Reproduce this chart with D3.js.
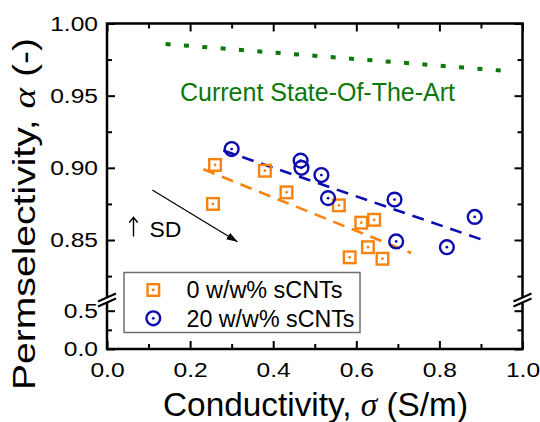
<!DOCTYPE html>
<html><head><meta charset="utf-8">
<script src="https://cdn.jsdelivr.net/npm/d3@7"></script>
<style>
body{margin:0;background:#fff;}
text{font-family:"Liberation Sans",Arial,sans-serif;fill:#000;}
</style></head><body>
<svg id="chart" width="540" height="422"></svg>
<script>
// ---- data ----
const series0Name = "0 w/w% sCNTs";
const series0X = [0.260,0.255,0.380,0.432,0.558,0.612,0.643,0.628,0.584,0.663];
const series0Y = [0.902,0.875,0.898,0.883,0.874,0.862,0.864,0.845,0.838,0.837];
const series20Name = "20 w/w% sCNTs";
const series20X = [0.300,0.466,0.468,0.516,0.532,0.692,0.885,0.696,0.818];
const series20Y = [0.913,0.905,0.900,0.895,0.879,0.878,0.866,0.849,0.845];
const fit0X = [0.232,0.732];  const fit0Y = [0.899,0.841];
const fit20X = [0.280,0.915]; const fit20Y = [0.912,0.849];
const sotaX = [0.141,0.975];  const sotaY = [0.9858,0.9668];
const sotaLabel = "Current State-Of-The-Art";
const sdArrowX = [0.109,0.314]; const sdArrowY = [0.8846,0.8488];
const sdLabel = "SD";
const xTicks = [0,0.2,0.4,0.6,0.8,1.0];
const xMinor = [0.1,0.3,0.5,0.7,0.9];
const yUpperTicks = [0.85,0.90,0.95,1.00];
const yUpperMinor = [0.825,0.875,0.925,0.975];
const yLowerTicks = [0.0,0.5];
const yLowerMinor = [0.25];

const ORANGE = "#f7820f", BLUE = "#0c0cb0", GREEN = "#0a780a";

const svg = d3.select("#chart");
const L = 107, R = 522.5, T = 23.5, B = 349;
const x  = d3.scaleLinear().domain([0,1]).range([L,R]);
const yU = d3.scaleLinear().domain([0.85,1.0]).range([240,T]);
const yL = d3.scaleLinear().domain([0,0.5]).range([B,310.7]);

function styleAxis(g, scaleTxt){
  g.select(".domain").remove();
  g.selectAll(".tick line").attr("stroke","#000").attr("stroke-width",2);
  g.selectAll(".tick text").attr("font-size",20.5).attr("fill","#000")
    .attr("font-family","Liberation Sans, Arial, sans-serif")
    .attr("transform", scaleTxt ? "scale(1.2,1)" : null);
}

// left axes
const gLU = svg.append("g").attr("transform",`translate(${L},0)`)
  .call(d3.axisLeft(yU).tickValues(yUpperTicks).tickSize(-8).tickPadding(7.5).tickFormat(d3.format(".2f")));
styleAxis(gLU,true);
const gLUm = svg.append("g").attr("transform",`translate(${L},0)`)
  .call(d3.axisLeft(yU).tickValues(yUpperMinor).tickSize(-5).tickFormat(""));
styleAxis(gLUm,false);
const gLL = svg.append("g").attr("transform",`translate(${L},0)`)
  .call(d3.axisLeft(yL).tickValues(yLowerTicks).tickSize(-8).tickPadding(7.5).tickFormat(d3.format(".1f")));
styleAxis(gLL,true);
const gLLm = svg.append("g").attr("transform",`translate(${L},0)`)
  .call(d3.axisLeft(yL).tickValues(yLowerMinor).tickSize(-5).tickFormat(""));
styleAxis(gLLm,false);
// right axes
[[yU,yUpperTicks,-8],[yU,yUpperMinor,-5],[yL,yLowerTicks,-8],[yL,yLowerMinor,-5]].forEach(([s,tv,sz])=>{
  const g = svg.append("g").attr("transform",`translate(${R},0)`)
    .call(d3.axisRight(s).tickValues(tv).tickSize(sz).tickFormat(""));
  styleAxis(g,false);
});
// bottom axes
const gB = svg.append("g").attr("transform",`translate(0,${B})`)
  .call(d3.axisBottom(x).tickValues(xTicks).tickSize(-8).tickPadding(13).tickFormat(d3.format(".1f")));
styleAxis(gB,true);
const gBm = svg.append("g").attr("transform",`translate(0,${B})`)
  .call(d3.axisBottom(x).tickValues(xMinor).tickSize(-5).tickFormat(""));
styleAxis(gBm,false);
// top axes
const gT = svg.append("g").attr("transform",`translate(0,${T})`)
  .call(d3.axisTop(x).tickValues(xTicks).tickSize(-8).tickFormat(""));
styleAxis(gT,false);
const gTm = svg.append("g").attr("transform",`translate(0,${T})`)
  .call(d3.axisTop(x).tickValues(xMinor).tickSize(-5).tickFormat(""));
styleAxis(gTm,false);

// frame
svg.append("rect").attr("x",L).attr("y",T).attr("width",R-L).attr("height",B-T)
  .attr("fill","none").attr("stroke","#000").attr("stroke-width",2.5);

// axis breaks
[L,R].forEach(ax=>{
  const yb = 300;
  svg.append("rect").attr("x",ax-3).attr("y",yb-2).attr("width",6).attr("height",4).attr("fill","#fff");
  [-2.5,2.5].forEach(o=>{
    svg.append("line").attr("x1",ax-9).attr("y1",yb+o+4).attr("x2",ax+9).attr("y2",yb+o-4)
      .attr("stroke","#000").attr("stroke-width",2);
  });
});

// state of the art line
svg.append("path").datum(d3.zip(sotaX,sotaY))
  .attr("d",d3.line().x(d=>x(d[0])).y(d=>yU(d[1])))
  .attr("stroke",GREEN).attr("stroke-width",4).attr("fill","none").attr("stroke-dasharray","5,13.4");
svg.append("text").attr("x",180).attr("y",100.5).attr("font-size",25).attr("fill",GREEN)
  .attr("textLength",275).attr("lengthAdjust","spacingAndGlyphs")
  .style("fill",GREEN).text(sotaLabel);

// fit lines
function fitLine(xs,ys,col){
  svg.append("path").datum(d3.zip(xs,ys))
    .attr("d",d3.line().x(d=>x(d[0])).y(d=>yU(d[1])))
    .attr("stroke",col).attr("stroke-width",2.6).attr("fill","none").attr("stroke-dasharray","12,8");
}
fitLine(fit0X,fit0Y,ORANGE);
fitLine(fit20X,fit20Y,BLUE);

// markers
function square(g,cx,cy){
  g.append("rect").attr("x",cx-5.8).attr("y",cy-5.8).attr("width",11.6).attr("height",11.6)
    .attr("fill","none").attr("stroke",ORANGE).attr("stroke-width",2.4);
  g.append("circle").attr("cx",cx).attr("cy",cy).attr("r",1.4).attr("fill",ORANGE);
}
function ring(g,cx,cy){
  g.append("circle").attr("cx",cx).attr("cy",cy).attr("r",6.9)
    .attr("fill","none").attr("stroke",BLUE).attr("stroke-width",2.4);
  g.append("circle").attr("cx",cx).attr("cy",cy).attr("r",1.4).attr("fill",BLUE);
}
const gp = svg.append("g");
series0X.forEach((v,i)=>square(gp,x(v),yU(series0Y[i])));
series20X.forEach((v,i)=>ring(gp,x(v),yU(series20Y[i])));

// SD arrow
svg.append("defs").append("marker").attr("id","ah").attr("viewBox","0 0 10 10")
  .attr("refX",10).attr("refY",5).attr("markerWidth",11).attr("markerHeight",11)
  .attr("markerUnits","userSpaceOnUse").attr("orient","auto")
  .append("path").attr("d","M0,1.5L10,5L0,8.5Z").attr("fill","#000");
svg.append("line").attr("x1",x(sdArrowX[0])).attr("y1",yU(sdArrowY[0]))
  .attr("x2",x(sdArrowX[1])).attr("y2",yU(sdArrowY[1]))
  .attr("stroke","#000").attr("stroke-width",1.2).attr("marker-end","url(#ah)");
// up arrow glyph
svg.append("path").attr("d","M133.5,236.5V217.5M129.3,222.5L133.5,217.3L137.7,222.5")
  .attr("stroke","#000").attr("stroke-width",1.4).attr("fill","none");
svg.append("text").attr("x",149.5).attr("y",236.5).attr("font-size",22.5)
  .attr("textLength",32).attr("lengthAdjust","spacingAndGlyphs").text(sdLabel);

// legend
svg.append("rect").attr("x",124).attr("y",272.5).attr("width",236).attr("height",60)
  .attr("fill","#fff").attr("stroke","#6e6e6e").attr("stroke-width",1.5);
const lg = svg.append("g");
square(lg,153.3,290);
ring(lg,153.3,318.3);
lg.append("text").attr("x",186.5).attr("y",298).attr("font-size",23)
  .attr("textLength",156).attr("lengthAdjust","spacingAndGlyphs").text(series0Name);
lg.append("text").attr("x",186.5).attr("y",326.5).attr("font-size",23)
  .attr("textLength",168).attr("lengthAdjust","spacingAndGlyphs").text(series20Name);

// axis titles
const xt = svg.append("text").attr("x",315.5).attr("y",416).attr("text-anchor","middle")
  .attr("font-size",33).attr("textLength",305).attr("lengthAdjust","spacingAndGlyphs");
xt.append("tspan").text("Conductivity, ");
xt.append("tspan").attr("font-family","Liberation Serif, serif").attr("font-style","italic").text("\u03c3");
xt.append("tspan").text(" (S/m)");

const yt = svg.append("text").attr("transform","translate(35,214) rotate(-90)").attr("text-anchor","middle")
  .attr("font-size",32).attr("textLength",352).attr("lengthAdjust","spacingAndGlyphs");
yt.append("tspan").text("Permselectivity, ");
yt.append("tspan").attr("font-family","Liberation Serif, serif").attr("font-style","italic").text("\u03b1");
yt.append("tspan").text(" (-)");
</script>
</body></html>
